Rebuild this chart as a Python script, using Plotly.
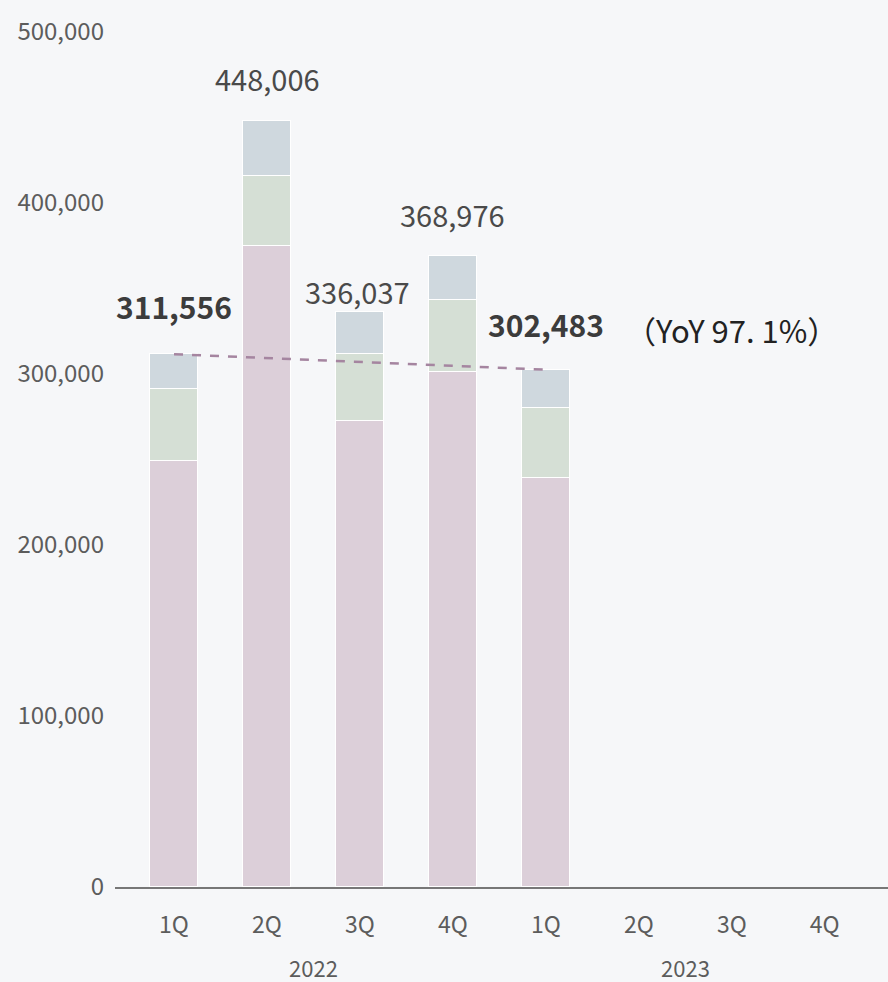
import plotly.graph_objects as go

quarters = ["1Q", "2Q", "3Q", "4Q", "1Q", "2Q", "3Q", "4Q"]
years = ["2022", "2023"]
seg_bottom = [249100, 374900, 272500, 301200, 239200]
seg_middle = [42100, 41000, 39200, 42100, 40900]
totals = [311556, 448006, 336037, 368976, 302483]
seg_top = [t - a - b for t, a, b in zip(totals, seg_bottom, seg_middle)]
yoy_text = "（YoY 97. 1%）"

FONT = "Noto Sans CJK JP"
BG = "#f6f7f9"
TICK_COL = "#5c5c5c"
x = list(range(len(totals)))

fig = go.Figure()
for vals, col in [(seg_bottom, "#dccfd9"), (seg_middle, "#d5dfd5"), (seg_top, "#cfd8de")]:
    fig.add_trace(go.Bar(x=x, y=vals, width=0.52, marker=dict(color=col, line=dict(color="white", width=1.5)),
                         hoverinfo="skip", showlegend=False))

fig.add_trace(go.Scatter(x=[0, 4], y=[totals[0], totals[4]], mode="lines",
                         line=dict(color="#a585a0", width=2.5, dash="dash"), showlegend=False, hoverinfo="skip"))

# value labels: (index, bold, x-shift px, y-shift px)
label_style = [(0, True, 0, 48), (1, False, 0, 43), (2, False, -2, 21), (3, False, 0, 42), (4, True, 0, 46)]
for i, bold, dx, dy in label_style:
    txt = f"{totals[i]:,}"
    fig.add_annotation(x=x[i], y=totals[i], text=f"<b>{txt}</b>" if bold else txt, showarrow=False,
                       xshift=dx, yshift=dy,
                       font=dict(family=FONT, size=30 if bold else 29, color="#3c3c3c" if bold else "#4a4a4a"))
fig.add_annotation(x=6, y=totals[4], text=yoy_text, showarrow=False, yshift=40,
                   font=dict(family=FONT, size=31, color="#222222"))

for j, yr in enumerate(years):
    fig.add_annotation(x=1.5 + 4 * j, y=-0.094, yref="paper", text=yr, showarrow=False,
                       font=dict(family=FONT, size=22, color=TICK_COL), yanchor="middle")

fig.update_layout(
    width=888, height=982, barmode="stack", bargap=0,
    paper_bgcolor=BG, plot_bgcolor=BG,
    margin=dict(l=115, r=0, t=32, b=95),
    xaxis=dict(range=[-0.635, 7.68], tickvals=x + [5, 6, 7], ticktext=quarters, showgrid=False,
               zeroline=False, showline=True, linecolor="#777777", linewidth=1.5, ticks="",
               ticklabelstandoff=17, tickfont=dict(family=FONT, size=23, color=TICK_COL)),
    yaxis=dict(range=[0, 500000], dtick=100000, tickformat=",", showgrid=False, zeroline=False,
               showline=False, ticks="", ticklabelstandoff=10,
               tickfont=dict(family=FONT, size=24, color=TICK_COL)),
)
fig.write_html("out.html", config={"displayModeBar": False},
               post_script="document.body.style.margin='0';document.body.style.overflow='hidden';")
